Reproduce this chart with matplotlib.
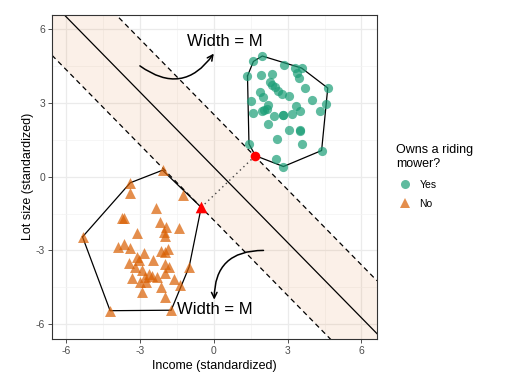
import numpy as np
import matplotlib.pyplot as plt
from matplotlib.lines import Line2D

plt.rcParams['font.family'] = ['Liberation Sans', 'DejaVu Sans']
plt.rcParams['axes.unicode_minus'] = False

# Owners ("Yes") - standardized income / lot size
yes_income = [1.97, 1.61, 1.37, 2.87, 3.30, 3.57, 3.37, 3.48, 1.92, 2.35,
              2.28, 2.38, 2.49, 2.62, 2.76, 3.06, 3.71, 4.63, 3.98, 4.55,
              4.32, 1.88, 2.01, 1.51, 2.22, 2.15, 1.97, 1.58, 2.46, 2.83,
              3.16, 3.33, 3.50, 2.22, 3.06, 3.50, 2.55, 3.57, 4.38, 1.43,
              2.51, 2.83, 2.05, 2.80, 3.52]
yes_lot = [4.90, 4.68, 4.09, 4.52, 4.41, 4.41, 4.22, 4.00, 4.14, 4.15,
           3.84, 3.71, 3.64, 3.46, 3.37, 3.27, 3.60, 3.60, 3.12, 2.96,
           2.65, 3.43, 3.23, 3.06, 2.92, 2.76, 2.65, 2.58, 2.45, 2.49,
           2.53, 2.87, 2.65, 2.15, 1.90, 1.90, 1.51, 1.31, 1.06, 1.33,
           0.70, 0.41, 2.72, 2.50, 1.85]

# Non-owners ("No")
no_income = [-2.08, -3.39, -3.42, -1.23, -2.34, -3.73, -3.65, -2.17, -1.94, -1.40,
             -2.03, -2.00, -3.12, -5.33, -3.63, -3.87, -3.39, -2.85, -2.16, -1.97,
             -1.84, -3.12, -3.05, -2.47, -3.46, -3.19, -2.00, -1.82, -1.00, -2.92,
             -2.65, -2.49, -2.31, -1.97, -2.79, -3.33, -2.99, -2.74, -1.63, -1.36,
             -2.13, -2.92, -2.00, -4.21, -1.73]
no_lot = [0.26, -0.25, -0.68, -0.75, -1.27, -1.67, -1.67, -1.84, -2.04, -2.07,
          -2.24, -2.42, -2.28, -2.45, -2.72, -2.85, -2.92, -3.10, -3.02, -3.06,
          -2.96, -3.26, -3.37, -3.37, -3.50, -3.67, -3.57, -3.67, -3.67, -3.80,
          -3.96, -4.04, -4.07, -3.93, -4.10, -4.14, -4.28, -4.28, -4.17, -4.41,
          -4.48, -4.68, -4.89, -5.45, -5.43]

# support vectors
sv_yes = (1.69, 0.85)
sv_no = (-0.51, -1.25)

# separating line and margins: y = intercept + slope * x
slope = -1.02
intercepts = {'lower': -1.77, 'mid': 0.38, 'upper': 2.53}


def hull(xs, ys):
    pts = sorted(set(zip(xs, ys)))

    def cross(o, a, b):
        return (a[0] - o[0]) * (b[1] - o[1]) - (a[1] - o[1]) * (b[0] - o[0])

    lower, upper = [], []
    for p in pts:
        while len(lower) >= 2 and cross(lower[-2], lower[-1], p) <= 0:
            lower.pop()
        lower.append(p)
    for p in reversed(pts):
        while len(upper) >= 2 and cross(upper[-2], upper[-1], p) <= 0:
            upper.pop()
        upper.append(p)
    h = lower[:-1] + upper[:-1]
    h.append(h[0])
    return np.array(h)


green = '#1B9E77'
orange = '#D95F02'

fig = plt.figure(figsize=(5.13, 3.73), dpi=100)
ax = fig.add_axes([52 / 513, 1 - 339 / 373, 325 / 513, 324.3 / 373])

xlim = (-6.57, 6.63)
ylim = (-6.6, 6.58)
ax.set_xlim(xlim)
ax.set_ylim(ylim)

# theme_bw look
ax.set_xticks([-6, -3, 0, 3, 6])
ax.set_yticks([-6, -3, 0, 3, 6])
ax.set_xticks([-4.5, -1.5, 1.5, 4.5], minor=True)
ax.set_yticks([-4.5, -1.5, 1.5, 4.5], minor=True)
ax.grid(True, which='major', color='#EBEBEB', lw=0.9)
ax.grid(True, which='minor', color='#F3F3F3', lw=0.5)
ax.set_axisbelow(True)
ax.tick_params(which='major', length=3, width=0.6, color='#333333',
               labelsize=7.5, labelcolor='#4D4D4D', pad=2)
ax.tick_params(which='minor', length=0)
for s in ax.spines.values():
    s.set_color('#333333')
    s.set_linewidth(0.8)

# margin band
xs = np.linspace(xlim[0], xlim[1], 200)
ax.fill_between(xs, intercepts['lower'] + slope * xs, intercepts['upper'] + slope * xs,
                color=orange, alpha=0.09, lw=0, zorder=1)
ax.plot(xs, intercepts['mid'] + slope * xs, color='black', lw=0.9, zorder=2)
ax.plot(xs, intercepts['lower'] + slope * xs, color='black', lw=0.9, ls=(0, (4, 3)), zorder=2)
ax.plot(xs, intercepts['upper'] + slope * xs, color='black', lw=0.9, ls=(0, (4, 3)), zorder=2)

# hulls (including support vectors)
hy = hull(yes_income + [sv_yes[0]], yes_lot + [sv_yes[1]])
hn = hull(no_income + [sv_no[0]], no_lot + [sv_no[1]])
ax.plot(hy[:, 0], hy[:, 1], color='black', lw=0.9, zorder=3)
ax.plot(hn[:, 0], hn[:, 1], color='black', lw=0.9, zorder=3)

ax.scatter(yes_income, yes_lot, s=44, color=green, alpha=0.7, lw=0, zorder=4)
ax.scatter(no_income, no_lot, s=62, marker='^', color=orange, alpha=0.7, lw=0, zorder=4)

# distance between support vectors
ax.plot([sv_no[0], sv_yes[0]], [sv_no[1], sv_yes[1]], color='#444444', lw=1, ls=(0, (1, 2.5)), zorder=3)
ax.scatter([sv_yes[0]], [sv_yes[1]], s=48, color='#FF0000', lw=0, zorder=5)
ax.scatter([sv_no[0]], [sv_no[1]], s=70, marker='^', color='#FF0000', lw=0, zorder=5)

# annotations
ax.text(0.46, 5.48, 'Width = M', fontsize=12, ha='center', va='center', zorder=6)
ax.text(0.03, -5.39, 'Width = M', fontsize=12, ha='center', va='center', zorder=6)
arrow = dict(arrowstyle='->', connectionstyle='arc3,rad=0.5', lw=1.1,
             color='black', shrinkA=0, shrinkB=0, mutation_scale=10)
ax.annotate('', xy=(0.0, 5.0), xytext=(-3.0, 4.5), arrowprops=arrow, zorder=6)
ax.annotate('', xy=(0.02, -5.0), xytext=(2.02, -3.0), arrowprops=arrow, zorder=6)

ax.set_xlabel('Income (standardized)', fontsize=9, labelpad=3)
ax.set_ylabel('Lot size (standardized)', fontsize=9, labelpad=1)

handles = [
    Line2D([], [], marker='o', ls='', color=green, alpha=0.7, markersize=6.5, markeredgewidth=0, label='Yes'),
    Line2D([], [], marker='^', ls='', color=orange, alpha=0.7, markersize=7.5, markeredgewidth=0, label='No'),
]
leg = ax.legend(handles=handles, title='Owns a riding\nmower?', loc='upper left',
                bbox_to_anchor=(387 / 513, 1 - 135 / 373), bbox_transform=fig.transFigure,
                frameon=False, fontsize=7.5, title_fontsize=9, alignment='left',
                handletextpad=0.6, labelspacing=0.9, handlelength=1.6)

fig.savefig('out.png', dpi=100)
